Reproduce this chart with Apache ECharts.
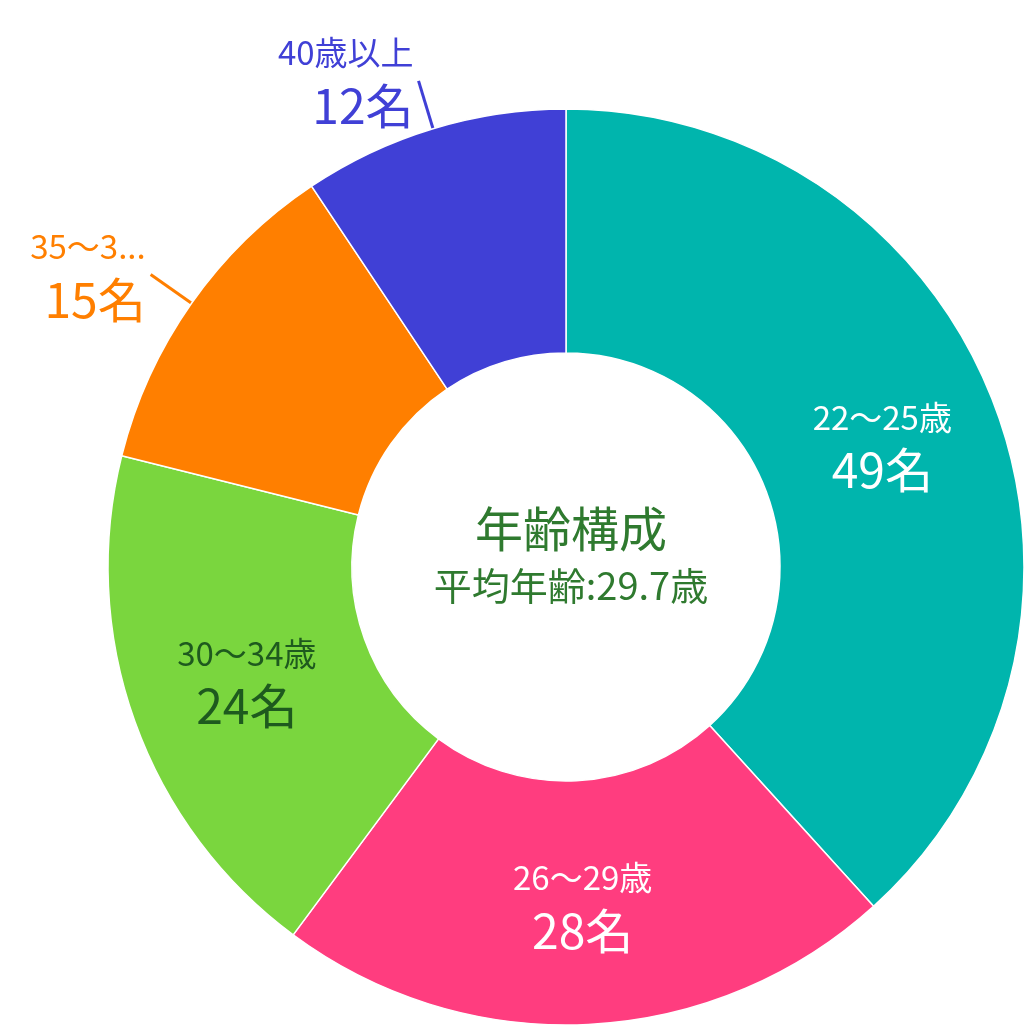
<!DOCTYPE html>
<html><head><meta charset="utf-8">
<script src="https://cdn.jsdelivr.net/npm/echarts@6/dist/echarts.min.js"></script>
<style>html,body{margin:0;padding:0;background:#fff}#c{width:1035px;height:1036px}</style>
</head><body><div id="c"></div>
<script>
const categories = ['22～25歳','26～29歳','30～34歳','35～39歳','40歳以上'];
const values = [49, 28, 24, 15, 12];
const colors = ['#00B5AD','#FF3D7F','#7AD63E','#FF7F00','#4040D6'];
const labelColors = ['#ffffff','#ffffff','#1E5A1E','#FF7F00','#4040D6'];
const outside = [false,false,false,true,true];
const centerTitle = '年齢構成';
const centerSub = '平均年齢:29.7歳';
const FONT = '"Noto Sans CJK JP", sans-serif';
const chart = echarts.init(document.getElementById('c'));
chart.setOption({
  animation:false,
  title:{text:centerTitle,subtext:centerSub,left:566,top:500,textAlign:'center',itemGap:14,
    textStyle:{fontFamily:FONT,fontSize:48,fontWeight:'normal',color:'#2F7A2F'},
    subtextStyle:{fontFamily:FONT,fontSize:38,color:'#2F7A2F'}},
  series:[{type:'pie',center:[566,567],radius:[214,458],startAngle:90,clockwise:true,
    itemStyle:{borderColor:'#fff',borderWidth:1.5},
    data:categories.map((n,i)=>({name:n,value:values[i],itemStyle:{color:colors[i]},
      label:{position:outside[i]?'outside':'inside',color:labelColors[i],
        rich:{a:{fontFamily:FONT,fontSize:33,color:labelColors[i],lineHeight:50},
              b:{fontFamily:FONT,fontSize:48,color:labelColors[i],lineHeight:56}}},
      labelLine:{show:outside[i],length:50,length2:0,lineStyle:{color:colors[i],width:3}}})),
    label:{formatter:'{a|{b}}\n{b|{c}名}',align:'center'}
  }]
});
</script></body></html>
